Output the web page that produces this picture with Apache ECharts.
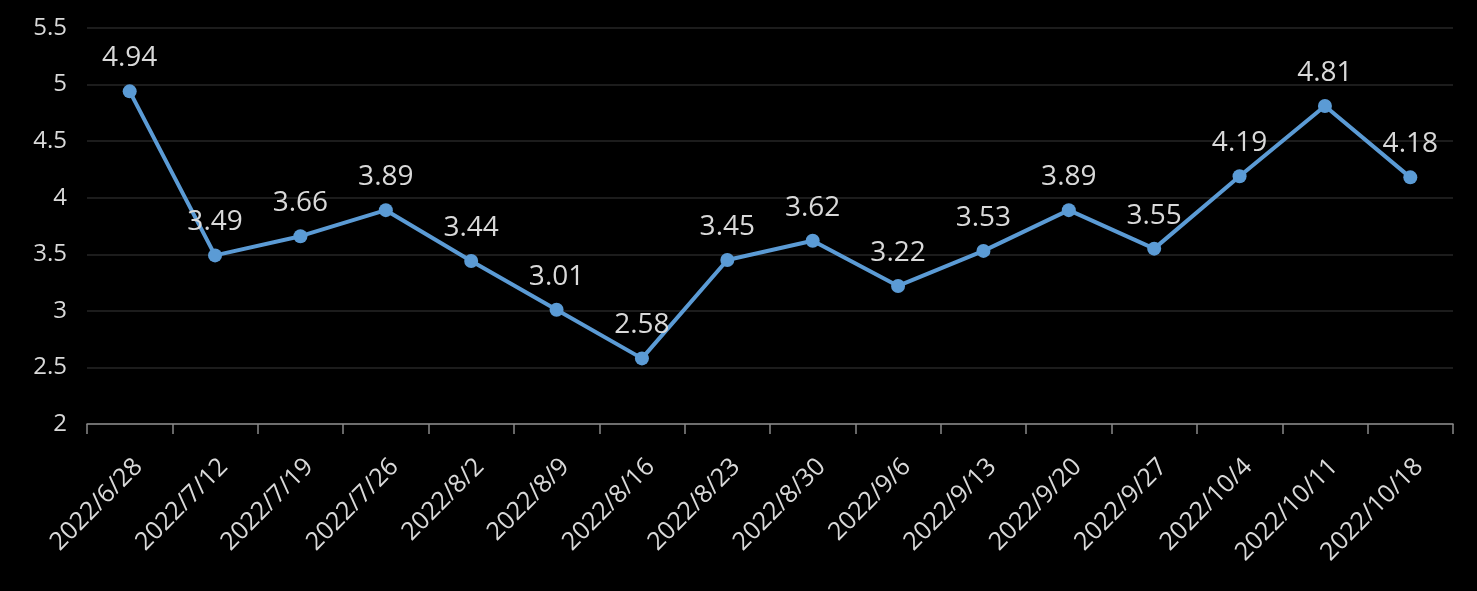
<!DOCTYPE html>
<html><head><meta charset="utf-8">
<script src="https://cdn.jsdelivr.net/npm/echarts@6/dist/echarts.min.js"></script>
<style>html,body{margin:0;padding:0;background:#000;}#c{width:1477px;height:591px;}</style>
</head><body><div id="c"></div>
<script>
const categories = ['2022/6/28','2022/7/12','2022/7/19','2022/7/26','2022/8/2','2022/8/9','2022/8/16','2022/8/23','2022/8/30','2022/9/6','2022/9/13','2022/9/20','2022/9/27','2022/10/4','2022/10/11','2022/10/18'];
const values = [4.94,3.49,3.66,3.89,3.44,3.01,2.58,3.45,3.62,3.22,3.53,3.89,3.55,4.19,4.81,4.18];
const chart = echarts.init(document.getElementById('c'));
const font = '"Open Sans", "Noto Sans", sans-serif';
chart.setOption({
  backgroundColor: '#000',
  animation: false,
  grid: {left: 87, right: 24, top: 28, bottom: 167},
  xAxis: {
    type: 'category', data: categories, boundaryGap: true,
    axisLine: {lineStyle: {color: '#898989', width: 1.5}},
    axisTick: {show: true, length: 10, lineStyle: {color: '#898989', width: 1.5}},
    axisLabel: {rotate: 45, color: '#d9d9d9', fontSize: 25, fontFamily: font, margin: 30, interval: 0, verticalAlign: 'top'}
  },
  yAxis: {
    type: 'value', min: 2, max: 5.5, interval: 0.5,
    axisLine: {show: false}, axisTick: {show: false},
    splitLine: {lineStyle: {color: '#262626', width: 1.5}},
    axisLabel: {color: '#d9d9d9', fontSize: 24, fontFamily: font, margin: 20}
  },
  series: [{
    type: 'line', data: values,
    symbol: 'circle', symbolSize: 14,
    lineStyle: {color: '#5b9bd5', width: 4},
    itemStyle: {color: '#5b9bd5'},
    label: {show: true, position: 'top', distance: 12, color: '#d9d9d9', fontSize: 28, fontFamily: font}
  }]
});
</script></body></html>
